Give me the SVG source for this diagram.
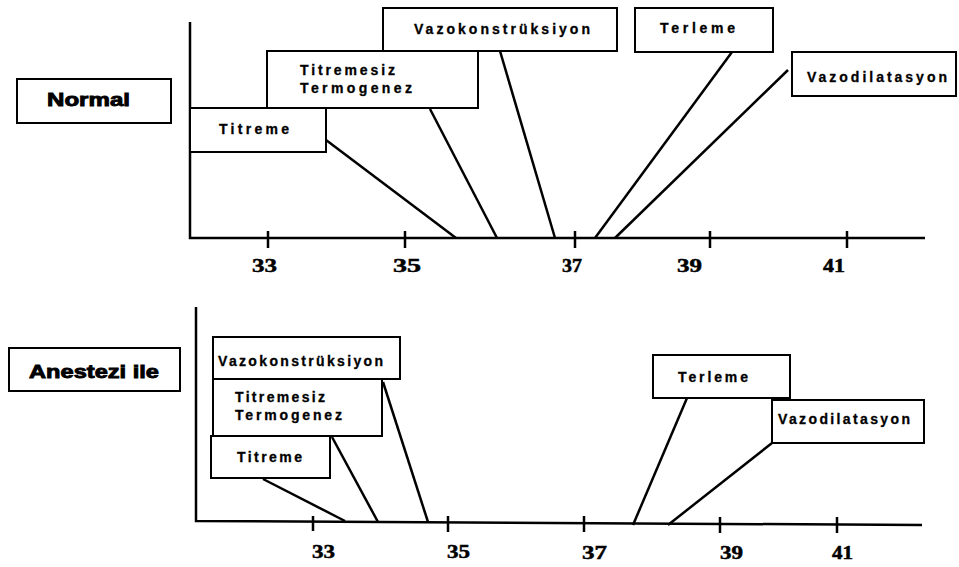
<svg xmlns="http://www.w3.org/2000/svg" width="959" height="567" viewBox="0 0 959 567">
<style>
.bx{fill:#fff;stroke:#000;stroke-width:2}
.t{font-family:"Liberation Sans",Arial,sans-serif;font-weight:bold;font-size:14px;fill:#000;stroke:#000;stroke-width:0.3}
.h{font-family:"Liberation Sans",Arial,sans-serif;font-weight:bold;font-size:19px;fill:#000;stroke:#000;stroke-width:0.9}
.n{font-family:"Liberation Serif","Times New Roman",serif;font-weight:bold;font-size:19px;fill:#000;stroke:#000;stroke-width:0.5}
.ax{stroke:#000;stroke-width:2.5;fill:none}
.c{stroke:#000;stroke-width:2.5;fill:none}
</style>
<rect width="959" height="567" fill="#fff"/>
<g id="axes-top">
<path class="ax" d="M190 22V238H925"/>
<path class="ax" d="M268 231V248M405 231V248M575 231V248M710 231V248M847 231V248"/>
<text class="n" x="252" y="272" textLength="25" lengthAdjust="spacingAndGlyphs">33</text>
<text class="n" x="393" y="272" textLength="28" lengthAdjust="spacingAndGlyphs">35</text>
<text class="n" x="562" y="272" textLength="20" lengthAdjust="spacingAndGlyphs">37</text>
<text class="n" x="677" y="272" textLength="25" lengthAdjust="spacingAndGlyphs">39</text>
<text class="n" x="823" y="272" textLength="22" lengthAdjust="spacingAndGlyphs">41</text>
</g>
<g id="axes-bottom">
<path class="ax" d="M196 307V521L922 525"/>
<path class="ax" d="M313 516V531M448 516V532M584 516V532M720 517V533M837 517V533"/>
<text class="n" x="312" y="558" font-size="18" textLength="23" lengthAdjust="spacingAndGlyphs">33</text>
<text class="n" x="447" y="558" font-size="18" textLength="23" lengthAdjust="spacingAndGlyphs">35</text>
<text class="n" x="582" y="559" font-size="18" textLength="25" lengthAdjust="spacingAndGlyphs">37</text>
<text class="n" x="720" y="559" font-size="18" textLength="23" lengthAdjust="spacingAndGlyphs">39</text>
<text class="n" x="832" y="559" font-size="18" textLength="21" lengthAdjust="spacingAndGlyphs">41</text>
</g>
<g id="connectors">
<path class="c" d="M326 140L456 238"/>
<path class="c" d="M430 109L497 238"/>
<path class="c" d="M500 51L555 238"/>
<path class="c" d="M732 52L595 238"/>
<path class="c" d="M788 70L615 238"/>
<path class="c" d="M263 479L345 521"/>
<path class="c" d="M332 437L378 522"/>
<path class="c" d="M383 382L428 522"/>
<path class="c" d="M687 398L633 525"/>
<path class="c" d="M772 443L668 525"/>
</g>
<g id="normal">
<rect class="bx" x="17" y="79" width="154" height="44"/>
<text class="h" x="47" y="106" textLength="83" lengthAdjust="spacingAndGlyphs">Normal</text>
</g>
<g id="top-titreme">
<rect class="bx" x="190" y="108" width="136" height="44"/>
<text class="t" x="219" y="134" textLength="70" lengthAdjust="spacing">Titreme</text>
</g>
<g id="top-titremesiz">
<rect class="bx" x="267" y="51" width="211" height="57"/>
<text class="t" x="300" y="75" textLength="95" lengthAdjust="spacing">Titremesiz</text>
<text class="t" x="300" y="93" textLength="112" lengthAdjust="spacing">Termogenez</text>
</g>
<g id="top-vazokonstriksiyon">
<rect class="bx" x="383" y="8" width="234" height="43"/>
<text class="t" x="414" y="34" textLength="176" lengthAdjust="spacing">Vazokonstrüksiyon</text>
</g>
<g id="top-terleme">
<rect class="bx" x="635" y="8" width="138" height="44"/>
<text class="t" x="660" y="33" textLength="75" lengthAdjust="spacing">Terleme</text>
</g>
<g id="top-vazodilatasyon">
<rect class="bx" x="792" y="52" width="164" height="44"/>
<text class="t" x="807" y="82" textLength="140" lengthAdjust="spacing">Vazodilatasyon</text>
</g>
<g id="anestezi">
<rect class="bx" x="9" y="348" width="171" height="43"/>
<text class="h" x="29" y="378" textLength="130" lengthAdjust="spacingAndGlyphs">Anestezi ile</text>
</g>
<g id="bot-vazokonstriksiyon">
<rect class="bx" x="213" y="337" width="187" height="42"/>
<text class="t" x="218" y="366" textLength="165" lengthAdjust="spacing">Vazokonstrüksiyon</text>
</g>
<g id="bot-titremesiz">
<rect class="bx" x="213" y="379" width="169" height="57"/>
<text class="t" x="235" y="402" textLength="90" lengthAdjust="spacing">Titremesiz</text>
<text class="t" x="235" y="420" textLength="107" lengthAdjust="spacing">Termogenez</text>
</g>
<g id="bot-titreme">
<rect class="bx" x="211" y="436" width="119" height="42"/>
<text class="t" x="237" y="462" textLength="65" lengthAdjust="spacing">Titreme</text>
</g>
<g id="bot-terleme">
<rect class="bx" x="653" y="355" width="137" height="43"/>
<text class="t" x="678" y="382" textLength="70" lengthAdjust="spacing">Terleme</text>
</g>
<g id="bot-vazodilatasyon">
<rect class="bx" x="772" y="400" width="152" height="43"/>
<text class="t" x="778" y="424" textLength="132" lengthAdjust="spacing">Vazodilatasyon</text>
</g>
</svg>
